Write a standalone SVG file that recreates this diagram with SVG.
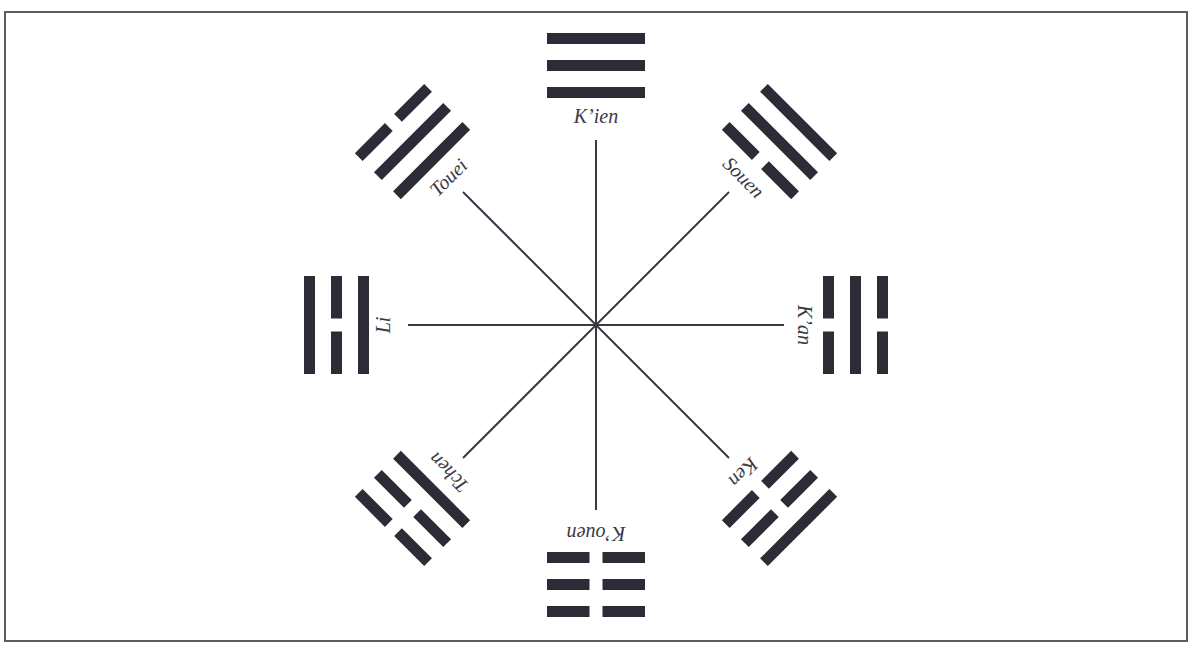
<svg xmlns="http://www.w3.org/2000/svg" width="1191" height="646" viewBox="0 0 1191 646">
<style>
.bar{fill:#2c2b36}
.ax{stroke:#3a3944;stroke-width:2;fill:none}
.lbl{font-family:"Liberation Serif",serif;font-style:italic;font-size:20px;fill:#3a3944;text-anchor:middle;dominant-baseline:central}
</style>
<defs>
<rect id="S1" class="bar" x="-49" y="-238" width="98" height="11"/>
<rect id="S2" class="bar" x="-49" y="-265" width="98" height="11"/>
<rect id="S3" class="bar" x="-49" y="-292" width="98" height="11"/>
<g id="B1"><rect class="bar" x="-49" y="-238" width="42.5" height="11"/><rect class="bar" x="6.5" y="-238" width="42.5" height="11"/></g>
<g id="B2"><rect class="bar" x="-49" y="-265" width="42.5" height="11"/><rect class="bar" x="6.5" y="-265" width="42.5" height="11"/></g>
<g id="B3"><rect class="bar" x="-49" y="-292" width="42.5" height="11"/><rect class="bar" x="6.5" y="-292" width="42.5" height="11"/></g>
</defs>
<rect x="0" y="0" width="1191" height="646" fill="#ffffff"/>
<rect x="5" y="12" width="1182" height="629" fill="none" stroke="#5a5a62" stroke-width="2"/>
<g id="connectors" class="ax">
<line x1="596" y1="140" x2="596" y2="510"/>
<line x1="408" y1="325" x2="784" y2="325"/>
<line x1="463" y1="192" x2="729" y2="458"/>
<line x1="729" y1="192" x2="463" y2="458"/>
</g>
<g id="kien" transform="translate(596,325) rotate(0)">
<use href="#S1"/><use href="#S2"/><use href="#S3"/>
<text class="lbl" x="0" y="-209">K’ien</text>
</g>
<g id="souen" transform="translate(596,325) rotate(45)">
<use href="#B1"/><use href="#S2"/><use href="#S3"/>
<text class="lbl" x="0" y="-209">Souen</text>
</g>
<g id="kan" transform="translate(596,325) rotate(90)">
<use href="#B1"/><use href="#S2"/><use href="#B3"/>
<text class="lbl" x="0" y="-209">K’an</text>
</g>
<g id="ken" transform="translate(596,325) rotate(135)">
<use href="#B1"/><use href="#B2"/><use href="#S3"/>
<text class="lbl" x="0" y="-209">Ken</text>
</g>
<g id="kouen" transform="translate(596,325) rotate(180)">
<use href="#B1"/><use href="#B2"/><use href="#B3"/>
<text class="lbl" x="0" y="-209">K’ouen</text>
</g>
<g id="tchen" transform="translate(596,325) rotate(225)">
<use href="#S1"/><use href="#B2"/><use href="#B3"/>
<text class="lbl" x="0" y="-209">Tchen</text>
</g>
<g id="li" transform="translate(596,325) rotate(270)">
<use href="#S1"/><use href="#B2"/><use href="#S3"/>
<text class="lbl" x="0" y="-213">Li</text>
</g>
<g id="touei" transform="translate(596,325) rotate(315)">
<use href="#S1"/><use href="#S2"/><use href="#B3"/>
<text class="lbl" x="0" y="-209">Touei</text>
</g>
</svg>
